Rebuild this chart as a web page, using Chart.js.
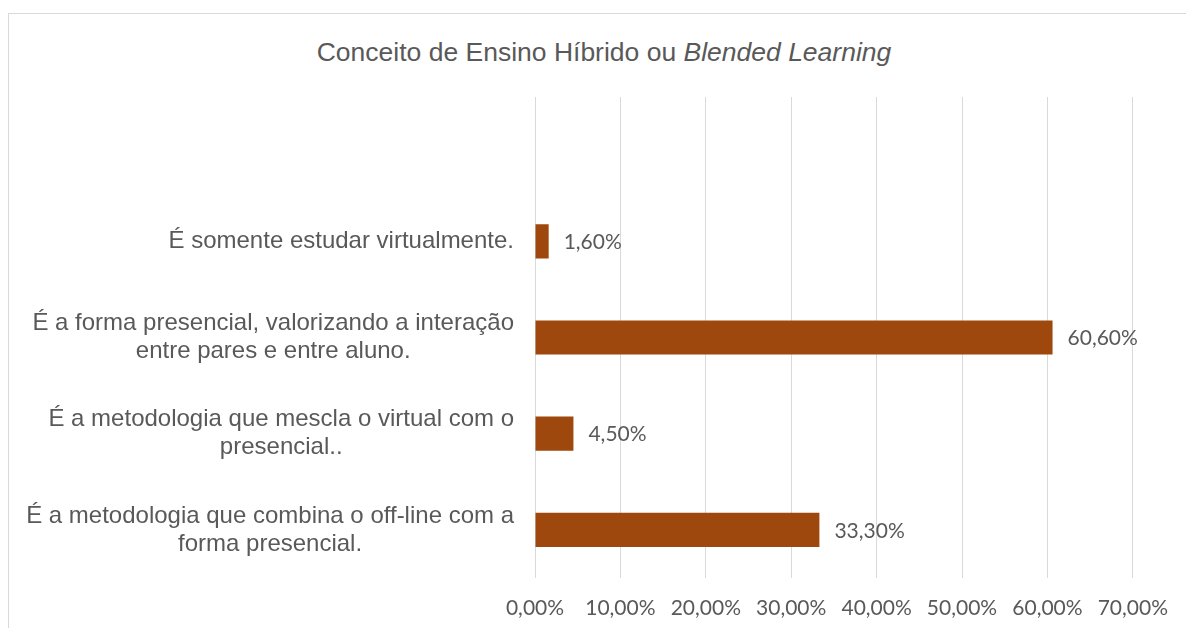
<!DOCTYPE html>
<html>
<head>
<meta charset="utf-8">
<script src="https://cdn.jsdelivr.net/npm/chart.js@4/dist/chart.umd.min.js"></script>
<style>
  body { margin: 0; background: #fff; overflow: hidden; }
  #wrap { position: relative; width: 1186px; height: 628px; }
  #frame { position: absolute; left: 8px; top: 13px; width: 1300px; height: 700px; border: 1px solid #d9d9d9; box-sizing: border-box; }
  #title { position: absolute; left: 0; top: 37px; width: 1208px; text-align: center; line-height: 31px;
    font-family: "Liberation Sans", Arial, sans-serif; font-size: 26.5px; color: #595959; }
  canvas { position: absolute; left: 0; top: 0; }
</style>
</head>
<body>
<div id="wrap">
  <div id="frame"></div>
  <div id="title">Conceito de Ensino Híbrido ou <i>Blended Learning</i></div>
  <canvas id="chart" width="1186" height="628"></canvas>
</div>
<script>
// first category is the empty row of the source sheet
const categories = [
  [''],
  ['É somente estudar virtualmente.'],
  ['É a forma presencial, valorizando a interação', 'entre pares e entre aluno.'],
  ['É a metodologia que mescla o virtual com o', 'presencial..'],
  ['É a metodologia que combina o off-line com a', 'forma presencial.'],
];
const percentages = [null, 1.6, 60.6, 4.5, 33.3];
const tickValues = [0, 10, 20, 30, 40, 50, 60, 70];

const textColor = '#595959';
const fmt = v => v.toFixed(2).replace('.', ',') + '%';

const categoryLabels = {
  id: 'categoryLabels',
  afterDraw(chart) {
    const ctx = chart.ctx;
    const y = chart.scales.y;
    const right = chart.chartArea.left - 21;
    ctx.save();
    ctx.font = '24px "Liberation Sans", Arial, sans-serif';
    ctx.fillStyle = textColor;
    ctx.textAlign = 'center';
    ctx.textBaseline = 'middle';
    categories.forEach((lines, i) => {
      const maxW = Math.max(...lines.map(l => ctx.measureText(l).width));
      const cx = right - maxW / 2;
      const cy = y.getPixelForValue(i);
      const lh = 28;
      lines.forEach((l, j) => {
        ctx.fillText(l, cx, cy + (j - (lines.length - 1) / 2) * lh);
      });
    });
    ctx.restore();
  }
};

const valueLabels = {
  id: 'valueLabels',
  afterDatasetsDraw(chart) {
    const ctx = chart.ctx;
    const meta = chart.getDatasetMeta(0);
    ctx.save();
    ctx.font = '21px Lato, sans-serif';
    ctx.fillStyle = textColor;
    ctx.textAlign = 'left';
    ctx.textBaseline = 'middle';
    meta.data.forEach((bar, i) => {
      const v = percentages[i];
      if (v == null) return;
      ctx.fillText(fmt(v), bar.x + 15, bar.y + 1);
    });
    ctx.restore();
  }
};

new Chart(document.getElementById('chart'), {
  type: 'bar',
  data: {
    labels: categories.map(c => c.join(' ')),
    datasets: [{
      data: percentages,
      backgroundColor: '#9E480E',
      borderWidth: 0,
      categoryPercentage: 1,
      barPercentage: 0.355,
    }],
  },
  options: {
    indexAxis: 'y',
    responsive: false,
    animation: false,
    layout: { padding: { top: 97, right: 52, bottom: 0, left: 0 } },
    plugins: { legend: { display: false }, tooltip: { enabled: false } },
    scales: {
      x: {
        min: 0,
        max: 70,
        afterBuildTicks: s => { s.ticks = tickValues.map(v => ({ value: v })); },
        afterFit: s => { s.height = 50; },
        ticks: {
          callback: v => fmt(v),
          color: textColor,
          font: { family: 'Lato', size: 21 },
          padding: 18,
          maxRotation: 0,
        },
        grid: { color: '#d9d9d9', lineWidth: 1, drawTicks: false },
        border: { display: false },
      },
      y: {
        afterFit: s => { s.width = 535; },
        ticks: { display: false },
        grid: { display: false },
        border: { display: false },
      },
    },
  },
  plugins: [categoryLabels, valueLabels],
});
</script>
</body>
</html>
